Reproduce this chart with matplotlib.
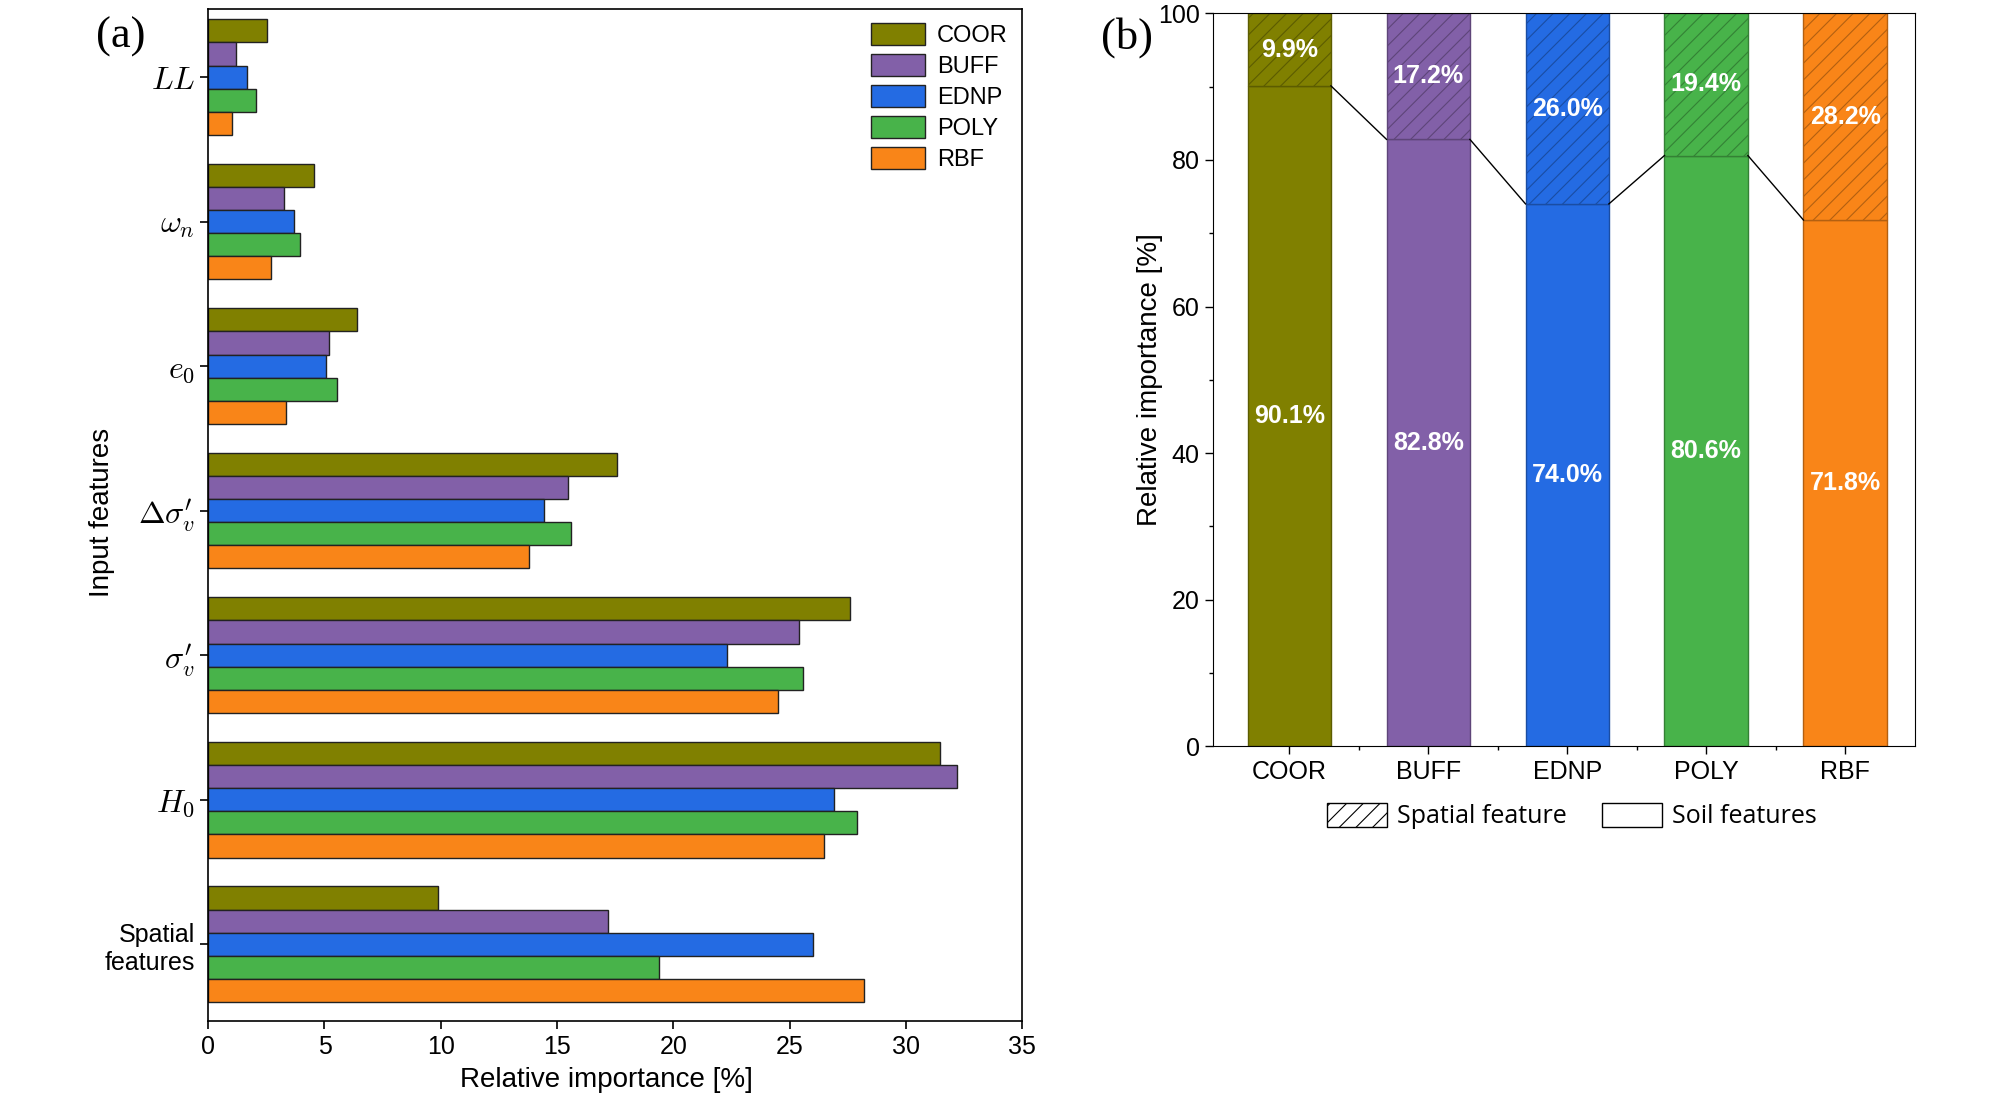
import matplotlib
matplotlib.use("Agg")
import matplotlib.pyplot as plt
import matplotlib.colors as mcolors
from matplotlib.patches import Patch
import numpy as np

plt.rcParams['font.family'] = ['Liberation Sans', 'DejaVu Sans']
plt.rcParams['mathtext.fontset'] = 'cm'
plt.rcParams['hatch.linewidth'] = 0.8

models = ['COOR', 'BUFF', 'EDNP', 'POLY', 'RBF']
colors = ['#808000', '#8260A8', '#246BE3', '#48B34A', '#F98518']

# features, bottom to top
features = ['Spatial\nfeatures', r'$H_0$', r"$\sigma_v'$", r"$\Delta\sigma_v'$",
            r'$e_0$', r'$\omega_n$', r'$LL$']

# relative importance [%] per feature (same order as features)
coor = [9.9, 31.45, 27.6, 17.6, 6.38, 4.54, 2.54]
buff = [17.2, 32.2, 25.4, 15.46, 5.2, 3.27, 1.21]
ednp = [26.0, 26.9, 22.3, 14.46, 5.05, 3.69, 1.66]
poly = [19.4, 27.9, 25.6, 15.58, 5.54, 3.93, 2.06]
rbf = [28.2, 26.5, 24.5, 13.79, 3.33, 2.72, 1.03]
series = [coor, buff, ednp, poly, rbf]

spatial_pct = [9.9, 17.2, 26.0, 19.4, 28.2]
soil_pct = [90.1, 82.8, 74.0, 80.6, 71.8]

fig = plt.figure(figsize=(20.08, 11.09), dpi=100)

# ---- (a) grouped horizontal bars
ax1 = fig.add_axes([0.1037, 0.079, 0.4053, 0.913])
h = 0.16
y = np.arange(len(features))
for i, (name, vals, c) in enumerate(zip(models, series, colors)):
    offset = (2 - i) * h
    ax1.barh(y + offset, vals, height=h, color=c, edgecolor='#222222',
             linewidth=1.0, label=name)
ax1.set_yticks(y)
ax1.set_yticklabels(features)
for lab in ax1.get_yticklabels():
    if lab.get_text().startswith('$'):
        lab.set_fontsize(23)
    else:
        lab.set_fontsize(18)
ax1.set_ylim(-0.534, 6.472)
ax1.set_xlim(0, 35)
ax1.set_xticks(np.arange(0, 36, 5))
ax1.tick_params(axis='x', labelsize=18, length=6, width=1.2)
ax1.tick_params(axis='y', length=6, width=1.2)
ax1.set_xlabel('Relative importance [%]', fontsize=20)
ax1.xaxis.set_label_coords(0.489, -0.045)
ax1.set_ylabel('Input features', fontsize=20)
ax1.yaxis.set_label_coords(-0.115, 0.503)
ax1.legend(loc='upper right', fontsize=17, frameon=False, handlelength=2.3,
           handleheight=1.05, labelspacing=0.3, borderaxespad=0.2,
           handletextpad=0.5)
for s in ax1.spines.values():
    s.set_linewidth(1.2)
fig.text(0.048, 0.985, '(a)', fontsize=32, family='Liberation Serif', va='top')

# ---- (b) stacked soil / spatial bars
ax2 = fig.add_axes([0.604, 0.327, 0.3495, 0.661])
x = np.arange(len(models))
w = 0.6
dark = [tuple(v * 0.72 for v in mcolors.to_rgb(c)) for c in colors]
ax2.bar(x, soil_pct, width=w, color=colors, edgecolor=dark, linewidth=1.0)
ax2.bar(x, spatial_pct, width=w, bottom=soil_pct, color=colors,
        edgecolor=dark, linewidth=1.0, hatch='//')
for i in range(len(models) - 1):
    ax2.plot([x[i] + w / 2, x[i + 1] - w / 2], [soil_pct[i], soil_pct[i + 1]],
             color='black', lw=1.0)
for i in range(len(models)):
    ax2.text(x[i], soil_pct[i] / 2, f'{soil_pct[i]:.1f}%', ha='center',
             va='center', color='white', fontsize=18, fontweight='bold')
    ax2.text(x[i], soil_pct[i] + spatial_pct[i] / 2, f'{spatial_pct[i]:.1f}%',
             ha='center', va='center', color='white', fontsize=18,
             fontweight='bold')
ax2.set_xlim(-0.55, 4.5)
ax2.set_ylim(0, 100)
ax2.set_xticks(x)
ax2.set_xticklabels(models)
ax2.set_xticks(x[:-1] + 0.5, minor=True)
ax2.set_yticks(np.arange(0, 101, 20))
ax2.set_yticks(np.arange(10, 100, 20), minor=True)
ax2.tick_params(axis='both', which='major', labelsize=18, length=6, width=1.0)
ax2.tick_params(axis='both', which='minor', length=3, width=1.0)
ax2.set_ylabel('Relative importance [%]', fontsize=20)
ax2.yaxis.set_label_coords(-0.071, 0.5)
handles = [Patch(facecolor='white', edgecolor='black', hatch='//', label='Spatial feature'),
           Patch(facecolor='white', edgecolor='black', label='Soil features')]
ax2.legend(handles=handles, loc='center', bbox_to_anchor=(0.512, -0.095),
           ncol=2, frameon=False, handlelength=2.4, handleheight=1.1,
           columnspacing=1.4, handletextpad=0.4,
           prop={'family': 'Open Sans', 'size': 18})
fig.text(0.5485, 0.985, '(b)', fontsize=32, family='Liberation Serif', va='top')

fig.savefig('out.png', dpi=100)
